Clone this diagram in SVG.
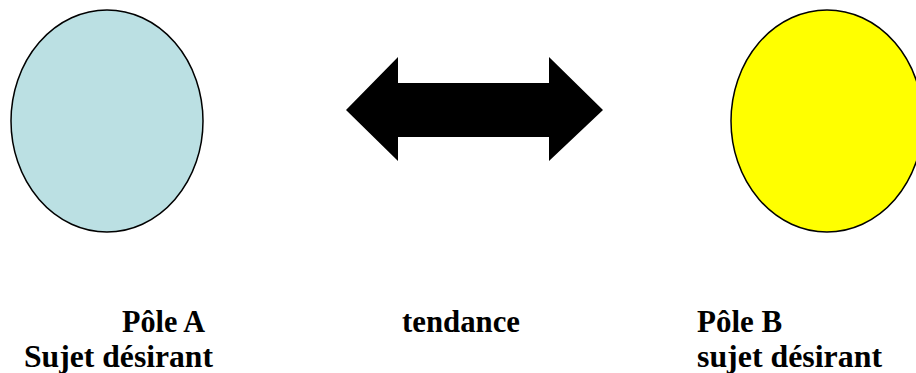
<svg xmlns="http://www.w3.org/2000/svg" width="916" height="373" viewBox="0 0 916 373">
<style>
.pole{stroke:#000;stroke-width:1.5}
.lbl{font-family:"Liberation Serif","Times New Roman",serif;font-weight:bold;font-size:31px;fill:#000}
</style>
<rect width="916" height="373" fill="#fff"/>
<g id="poleA">
<ellipse class="pole" cx="107" cy="121" rx="96" ry="111" fill="#bbe0e3"/>
<text class="lbl" x="122" y="332" textLength="83" lengthAdjust="spacingAndGlyphs">Pôle A</text>
<text class="lbl" x="24" y="367" textLength="189" lengthAdjust="spacingAndGlyphs">Sujet désirant</text>
</g>
<g id="poleB">
<ellipse class="pole" cx="827" cy="121" rx="96" ry="111" fill="#ffff00"/>
<text class="lbl" x="697" y="332">Pôle B</text>
<text class="lbl" x="697" y="367" textLength="185" lengthAdjust="spacingAndGlyphs">sujet désirant</text>
</g>
<g id="connectors">
<polygon points="346,110 398,57 398,83 549,83 549,57 603,110 549,161 549,137 398,137 398,161" fill="#000"/>
<text class="lbl" x="402" y="332" textLength="118" lengthAdjust="spacingAndGlyphs">tendance</text>
</g>
</svg>
